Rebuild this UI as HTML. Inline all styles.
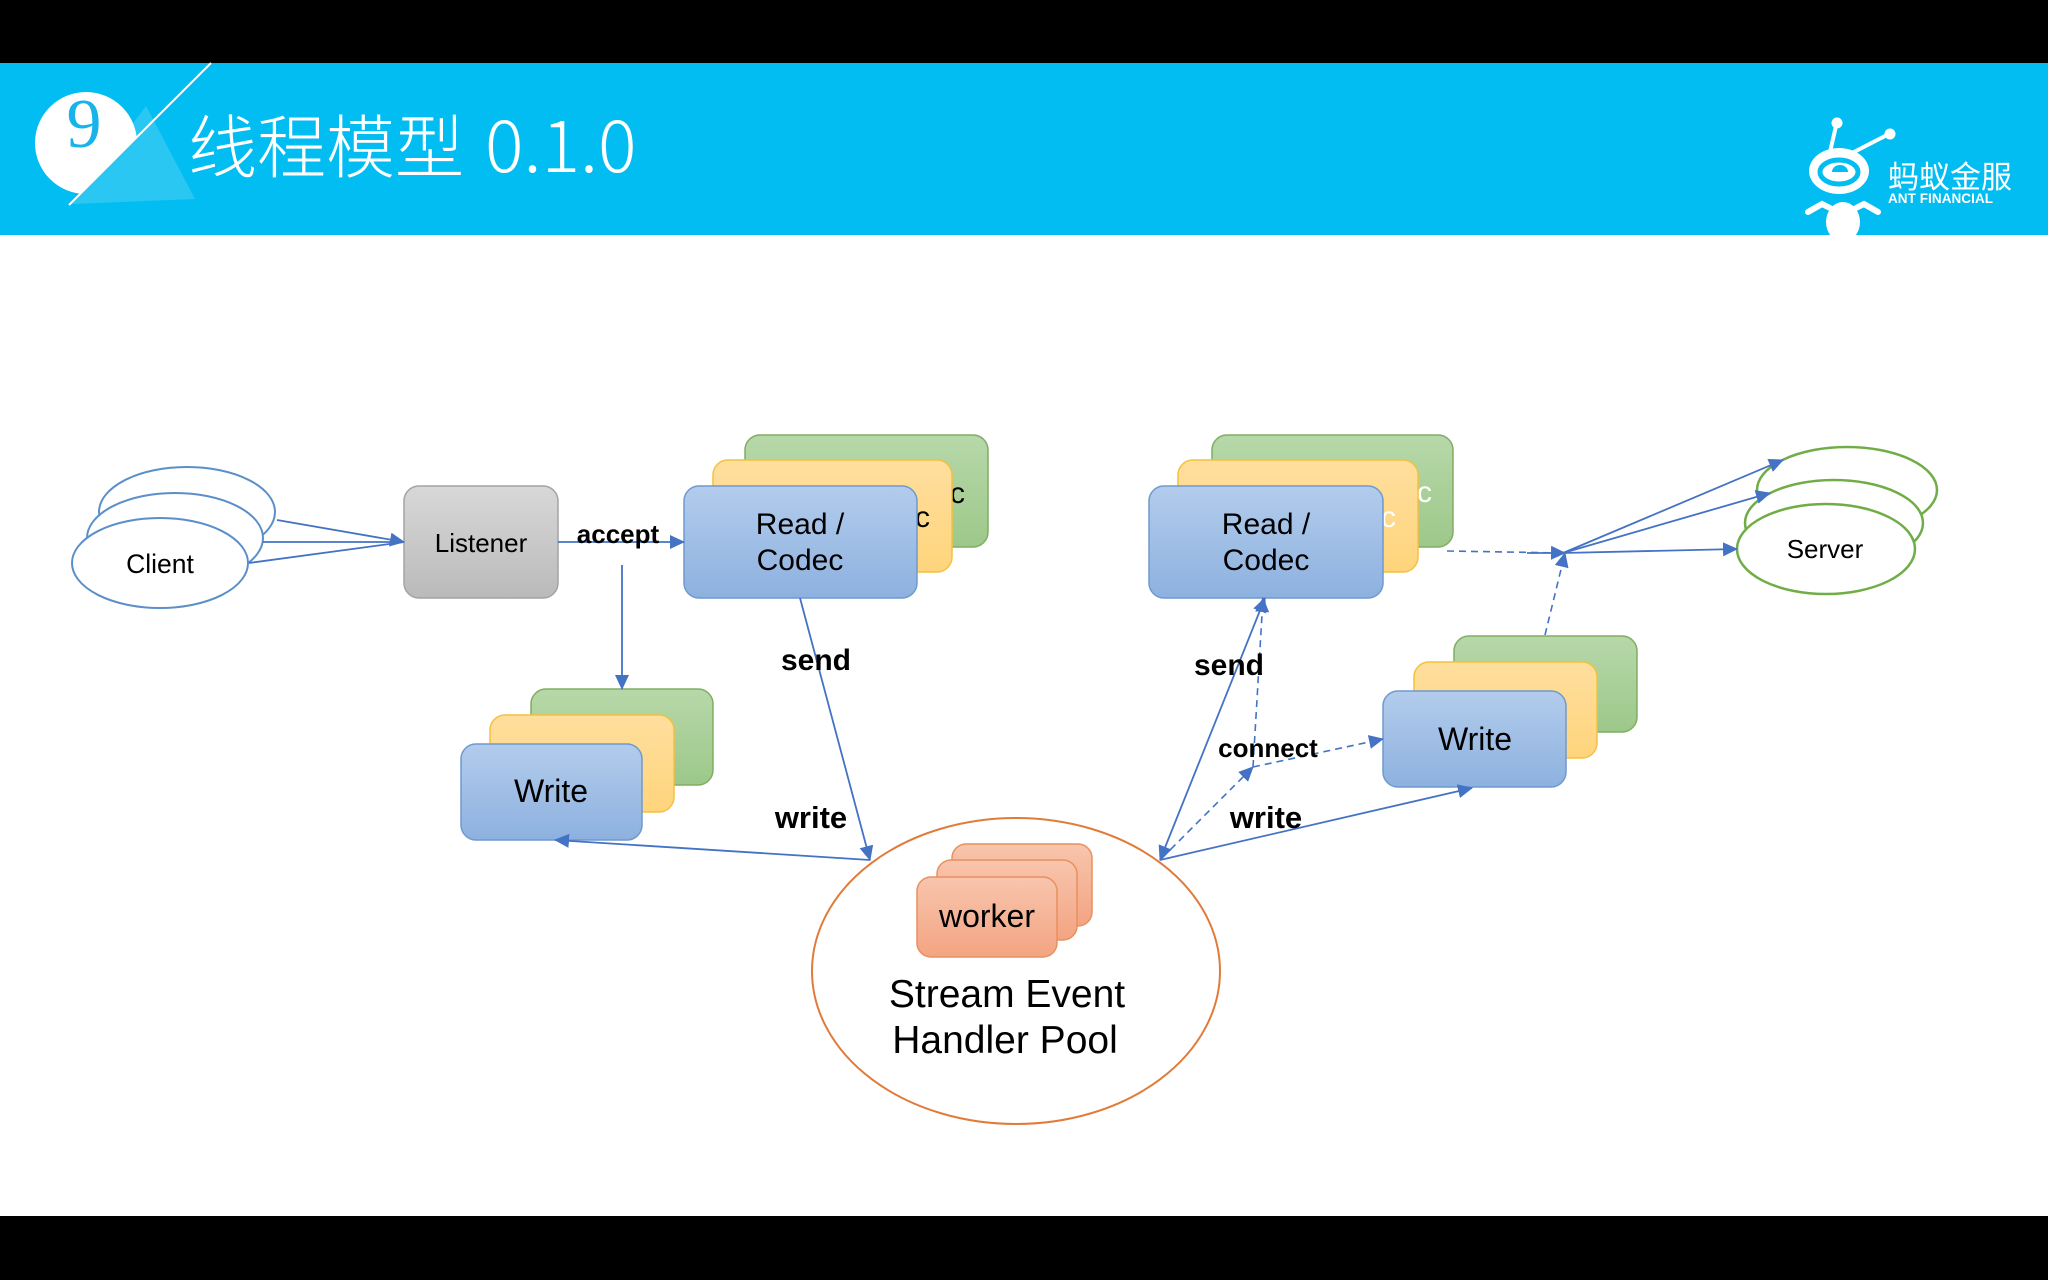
<!DOCTYPE html>
<html>
<head>
<meta charset="utf-8">
<style>
html,body{margin:0;padding:0;background:#fff;}
body{width:2048px;height:1280px;overflow:hidden;position:relative;}
svg{position:absolute;left:0;top:0;}
</style>
</head>
<body>
<svg width="2048" height="1280" viewBox="0 0 2048 1280" xmlns="http://www.w3.org/2000/svg">
  <defs>
    <linearGradient id="gBlue" x1="0" y1="0" x2="0" y2="1">
      <stop offset="0" stop-color="#b3ccec"/>
      <stop offset="1" stop-color="#8db1df"/>
    </linearGradient>
    <linearGradient id="gYel" x1="0" y1="0" x2="0" y2="1">
      <stop offset="0" stop-color="#ffdf9e"/>
      <stop offset="1" stop-color="#ffd47c"/>
    </linearGradient>
    <linearGradient id="gGrn" x1="0" y1="0" x2="0" y2="1">
      <stop offset="0" stop-color="#b7d8a9"/>
      <stop offset="1" stop-color="#9dc88a"/>
    </linearGradient>
    <linearGradient id="gGray" x1="0" y1="0" x2="0" y2="1">
      <stop offset="0" stop-color="#d8d8d8"/>
      <stop offset="1" stop-color="#bababa"/>
    </linearGradient>
    <linearGradient id="gSal" x1="0" y1="0" x2="0" y2="1">
      <stop offset="0" stop-color="#f8c5ad"/>
      <stop offset="1" stop-color="#f3a482"/>
    </linearGradient>
    <marker id="ah" markerUnits="userSpaceOnUse" markerWidth="16" markerHeight="14" refX="14" refY="7" orient="auto">
      <path d="M0,0 L15,7 L0,14 Z" fill="#4472c4"/>
    </marker>
    <marker id="ahs" markerUnits="userSpaceOnUse" markerWidth="16" markerHeight="14" refX="1" refY="7" orient="auto">
      <path d="M15,0 L0,7 L15,14 Z" fill="#4472c4"/>
    </marker>
    <clipPath id="circClip">
      <polygon points="0,63 211,63 69,205 0,205"/>
    </clipPath>
  </defs>

  <!-- top and bottom black bars -->
  <rect x="0" y="0" width="2048" height="63" fill="#000"/>
  <rect x="0" y="1216" width="2048" height="64" fill="#000"/>

  <!-- header band -->
  <rect x="0" y="63" width="2048" height="172" fill="#02bdf1"/>
  <circle cx="86" cy="143" r="51" fill="#fff" clip-path="url(#circClip)"/>
  <polygon points="146,106 195,199 72,204" fill="#ffffff" fill-opacity="0.16"/>
  <line x1="211" y1="63" x2="69" y2="205" stroke="#fff" stroke-width="2"/>
  <text x="84" y="147" font-family="'Liberation Serif', serif" font-size="70" fill="#17b3ea" text-anchor="middle">9</text>
  <text x="188" y="172" font-family="'Liberation Sans','Noto Sans CJK SC',sans-serif" font-weight="300" font-size="69" fill="#fff">线程模型</text>
  <text x="485" y="172" font-family="'Noto Sans CJK SC','Liberation Sans',sans-serif" font-weight="300" font-size="72" fill="#fff">0.1.0</text>

  <!-- logo -->
  <g fill="#fff">
    <line x1="1830" y1="152" x2="1836" y2="126" stroke="#fff" stroke-width="4"/>
    <circle cx="1837" cy="123" r="5.5"/>
    <line x1="1852" y1="153" x2="1887" y2="135" stroke="#fff" stroke-width="4"/>
    <circle cx="1890" cy="134" r="5.5"/>
    <ellipse cx="1839" cy="171" rx="30" ry="23"/>
    <ellipse cx="1839" cy="172" rx="19" ry="12" fill="none" stroke="#02bdf1" stroke-width="5"/>
    <path d="M1832,172 A8,7 0 0 1 1848,172 Z" fill="#02bdf1"/>
    <path d="M1808,212 L1822,204 L1830,208" fill="none" stroke="#fff" stroke-width="6" stroke-linecap="round"/>
    <path d="M1878,212 L1864,204 L1856,208" fill="none" stroke="#fff" stroke-width="6" stroke-linecap="round"/>
    <ellipse cx="1843" cy="222" rx="17" ry="20"/>
  </g>
  <text x="1888" y="188" font-family="'Liberation Sans','Noto Sans CJK SC',sans-serif" font-size="31" fill="#fff">蚂蚁金服</text>
  <text x="1888" y="203" font-family="'Liberation Sans',sans-serif" font-size="13.5" font-weight="bold" fill="#fff" textLength="105">ANT FINANCIAL</text>

  <!-- Clients -->
  <g fill="#fff" stroke="#5b8fc9" stroke-width="2">
    <ellipse cx="187" cy="512" rx="88" ry="45"/>
    <ellipse cx="175" cy="538" rx="88" ry="45"/>
    <ellipse cx="160" cy="563" rx="88" ry="45"/>
  </g>
  <text x="160" y="573" font-family="'Liberation Sans',sans-serif" font-size="26.5" text-anchor="middle" fill="#000">Client</text>

  <!-- Listener -->
  <rect x="404" y="486" width="154" height="112" rx="15" fill="url(#gGray)" stroke="#a3a3a3" stroke-width="1.5"/>
  <text x="481" y="552" font-family="'Liberation Sans',sans-serif" font-size="26" text-anchor="middle" fill="#000">Listener</text>

  <!-- Left Read/Codec stack -->
  <rect x="745" y="435" width="243" height="112" rx="15" fill="url(#gGrn)" stroke="#80ad63" stroke-width="1.5"/>
  <text x="950" y="503" font-family="'Liberation Sans',sans-serif" font-size="30" fill="#000">c</text>
  <rect x="713" y="460" width="239" height="112" rx="15" fill="url(#gYel)" stroke="#f4c13f" stroke-width="1.5"/>
  <text x="915" y="527" font-family="'Liberation Sans',sans-serif" font-size="30" fill="#000">c</text>
  <rect x="684" y="486" width="233" height="112" rx="15" fill="url(#gBlue)" stroke="#6f99cf" stroke-width="1.5"/>
  <text x="800" y="534" font-family="'Liberation Sans',sans-serif" font-size="30" text-anchor="middle" fill="#000">Read /</text>
  <text x="800" y="570" font-family="'Liberation Sans',sans-serif" font-size="30" text-anchor="middle" fill="#000">Codec</text>

  <!-- Right Read/Codec stack -->
  <rect x="1212" y="435" width="241" height="112" rx="15" fill="url(#gGrn)" stroke="#80ad63" stroke-width="1.5"/>
  <text x="1417" y="502" font-family="'Liberation Sans',sans-serif" font-size="30" fill="#fff">c</text>
  <rect x="1178" y="460" width="240" height="112" rx="15" fill="url(#gYel)" stroke="#f4c13f" stroke-width="1.5"/>
  <text x="1381" y="527" font-family="'Liberation Sans',sans-serif" font-size="30" fill="#fff">c</text>
  <rect x="1149" y="486" width="234" height="112" rx="15" fill="url(#gBlue)" stroke="#6f99cf" stroke-width="1.5"/>
  <text x="1266" y="534" font-family="'Liberation Sans',sans-serif" font-size="30" text-anchor="middle" fill="#000">Read /</text>
  <text x="1266" y="570" font-family="'Liberation Sans',sans-serif" font-size="30" text-anchor="middle" fill="#000">Codec</text>

  <!-- Left Write stack -->
  <rect x="531" y="689" width="182" height="96" rx="15" fill="url(#gGrn)" stroke="#80ad63" stroke-width="1.5"/>
  <rect x="490" y="715" width="184" height="97" rx="15" fill="url(#gYel)" stroke="#f4c13f" stroke-width="1.5"/>
  <rect x="461" y="744" width="181" height="96" rx="15" fill="url(#gBlue)" stroke="#6f99cf" stroke-width="1.5"/>
  <text x="551" y="802" font-family="'Liberation Sans',sans-serif" font-size="32" text-anchor="middle" fill="#000">Write</text>

  <!-- Right Write stack -->
  <rect x="1454" y="636" width="183" height="96" rx="15" fill="url(#gGrn)" stroke="#80ad63" stroke-width="1.5"/>
  <rect x="1414" y="662" width="183" height="96" rx="15" fill="url(#gYel)" stroke="#f4c13f" stroke-width="1.5"/>
  <rect x="1383" y="691" width="183" height="96" rx="15" fill="url(#gBlue)" stroke="#6f99cf" stroke-width="1.5"/>
  <text x="1475" y="750" font-family="'Liberation Sans',sans-serif" font-size="32" text-anchor="middle" fill="#000">Write</text>

  <!-- Servers -->
  <g fill="#fff" stroke="#70ad47" stroke-width="2.5">
    <ellipse cx="1847" cy="490" rx="90" ry="43"/>
    <ellipse cx="1834" cy="523" rx="89" ry="43"/>
    <ellipse cx="1826" cy="549" rx="89" ry="45"/>
  </g>
  <text x="1825" y="558" font-family="'Liberation Sans',sans-serif" font-size="26" text-anchor="middle" fill="#000">Server</text>

  <!-- Handler pool -->
  <ellipse cx="1016" cy="971" rx="204" ry="153" fill="#fff" stroke="#e07b39" stroke-width="2"/>
  <rect x="952" y="844" width="140" height="82" rx="14" fill="url(#gSal)" stroke="#e8905e" stroke-width="1.5"/>
  <rect x="937" y="860" width="140" height="80" rx="14" fill="url(#gSal)" stroke="#e8905e" stroke-width="1.5"/>
  <rect x="917" y="877" width="140" height="80" rx="14" fill="url(#gSal)" stroke="#e8905e" stroke-width="1.5"/>
  <text x="987" y="927" font-family="'Liberation Sans',sans-serif" font-size="32" text-anchor="middle" fill="#000">worker</text>
  <text x="1007" y="1007" font-family="'Liberation Sans',sans-serif" font-size="39" text-anchor="middle" fill="#000">Stream Event</text>
  <text x="1005" y="1053" font-family="'Liberation Sans',sans-serif" font-size="39" text-anchor="middle" fill="#000">Handler Pool</text>

  <!-- Connectors -->
  <g stroke="#4472c4" stroke-width="1.8" fill="none">
    <line x1="277" y1="520" x2="404" y2="542" marker-end="url(#ah)"/>
    <line x1="263" y1="542" x2="404" y2="542"/>
    <line x1="249" y1="563" x2="404" y2="542"/>
    <line x1="558" y1="542" x2="684" y2="542" marker-end="url(#ah)"/>
    <line x1="622" y1="565" x2="622" y2="689" marker-end="url(#ah)"/>
    <line x1="800" y1="598" x2="870" y2="860" marker-end="url(#ah)"/>
    <line x1="870" y1="860" x2="555" y2="840" marker-end="url(#ah)"/>
    <line x1="1160" y1="860" x2="1265" y2="598" marker-end="url(#ah)" marker-start="url(#ahs)"/>
    <line x1="1160" y1="860" x2="1472" y2="788" marker-end="url(#ah)"/>
    <line x1="1563" y1="553" x2="1783" y2="460" marker-end="url(#ah)"/>
    <line x1="1563" y1="553" x2="1770" y2="493" marker-end="url(#ah)"/>
    <line x1="1563" y1="553" x2="1737" y2="549" marker-end="url(#ah)"/>
    <line x1="1527" y1="553" x2="1560" y2="553"/>
  </g>
  <g stroke="#4472c4" stroke-width="1.6" fill="none" stroke-dasharray="7,5">
    <line x1="1162" y1="858" x2="1253" y2="767" marker-end="url(#ah)"/>
    <line x1="1253" y1="767" x2="1263" y2="598" marker-end="url(#ah)"/>
    <line x1="1253" y1="767" x2="1383" y2="739" marker-end="url(#ah)"/>
    <line x1="1545" y1="635" x2="1565" y2="553" marker-end="url(#ah)"/>
    <line x1="1447" y1="551" x2="1565" y2="553" marker-end="url(#ah)"/>
  </g>

  <!-- Labels -->
  <g font-family="'Liberation Sans',sans-serif" font-weight="bold" fill="#000" text-anchor="middle">
    <text x="618" y="543" font-size="26">accept</text>
    <text x="816" y="670" font-size="30">send</text>
    <text x="811" y="828" font-size="31">write</text>
    <text x="1229" y="675" font-size="30">send</text>
    <text x="1268" y="757" font-size="26">connect</text>
    <text x="1266" y="828" font-size="31">write</text>
  </g>
</svg>
</body>
</html>
